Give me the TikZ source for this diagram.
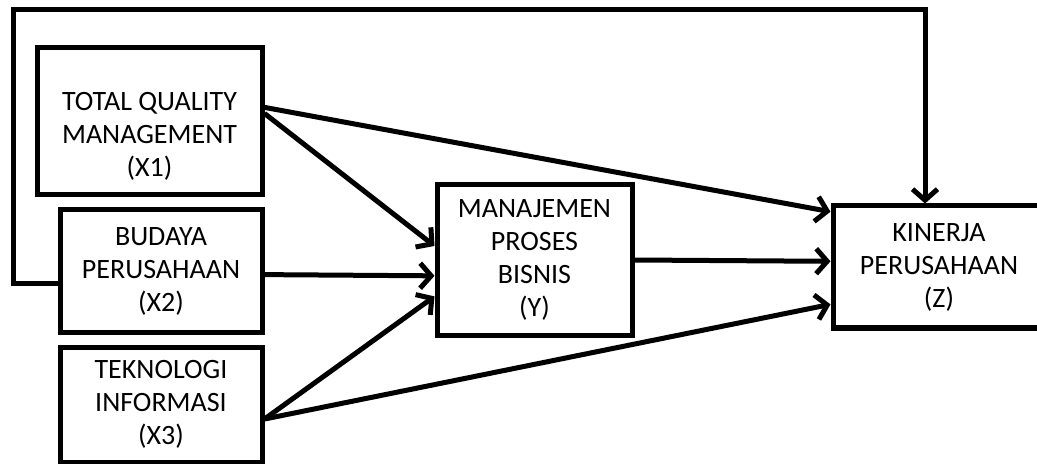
\documentclass[tikz,border=0pt]{standalone}
\usepackage{fontspec}
\setmainfont{Carlito}
\usetikzlibrary{arrows.meta}
\tikzset{
  varbox/.style={draw, line width=2.5pt, inner sep=0pt, align=center,
    font=\fontsize{14}{16.5}\selectfont},
  link/.style={line width=2.5pt, -{Straight Barb[length=5.5pt,width=12.5pt]}}
}
\begin{document}
\begin{tikzpicture}[x=0.5pt, y=-0.5pt]
  \useasboundingbox (0,0) rectangle (1037,464);
  % variables
  \node[varbox, minimum width=112.5pt, minimum height=73.5pt] (X1) at (149.5,121.5)
    {\rule{0pt}{24pt}TOTAL QUALITY\\MANAGEMENT\\(X1)};
  \node[varbox, minimum width=101pt, minimum height=61pt] (X2) at (161,271)
    {BUDAYA\\PERUSAHAAN\\(X2)};
  \node[varbox, minimum width=101pt, minimum height=57.5pt] (X3) at (161,404.5)
    {TEKNOLOGI\\INFORMASI\\(X3)};
  \node[varbox, minimum width=97.5pt, minimum height=75pt] (Y) at (534.5,260)
    {MANAJEMEN\\PROSES\\BISNIS\\(Y)};
  \node[varbox, minimum width=106pt, minimum height=61pt] (Z) at (939,267)
    {KINERJA\\PERUSAHAAN\\(Z)};
  % paths
  \draw[link] (X1.7) -- (Z.153);
  \draw[link] (X1.4) -- (Y.172);
  \draw[link] (X2.358) -- (Y.189);
  \draw[link] (X3.352) -- (Y.200);
  \draw[link] (X3.352) -- (Z.199);
  \draw[link] (Y.east) -- (Z.177);
  \coordinate (loop) at (13,10);
  \draw[link] (X2.187) -| (loop) -| ([xshift=-7pt]Z.north);
\end{tikzpicture}
\end{document}
